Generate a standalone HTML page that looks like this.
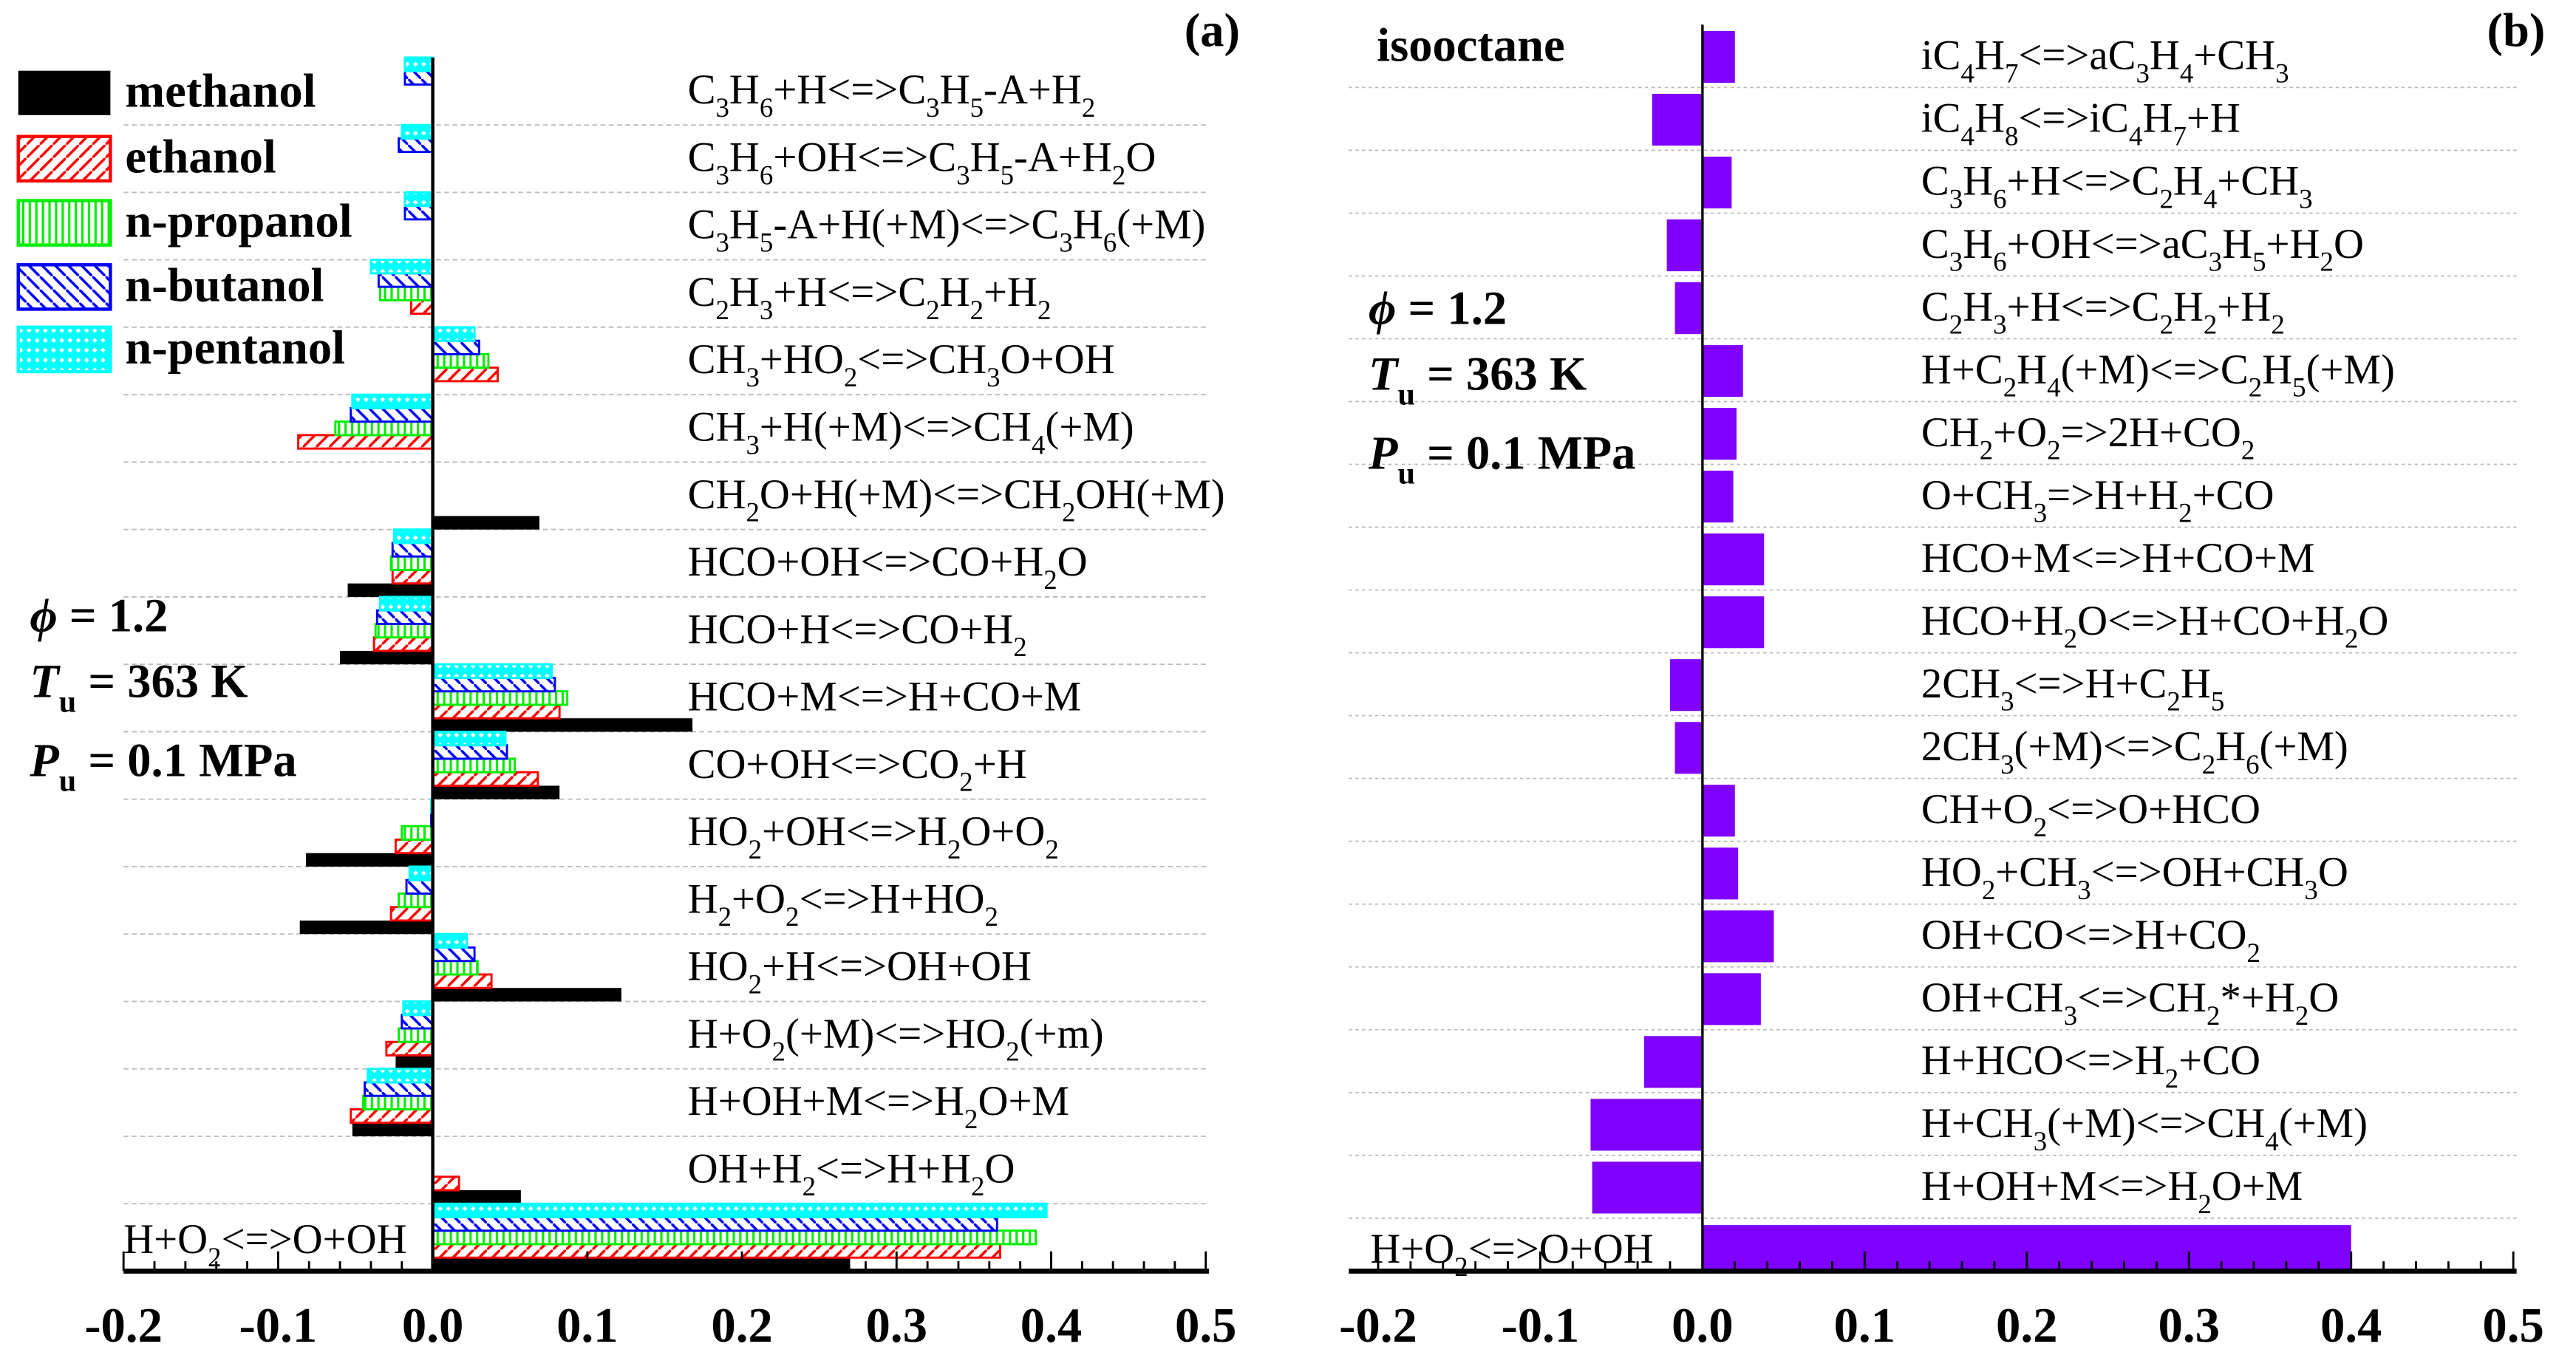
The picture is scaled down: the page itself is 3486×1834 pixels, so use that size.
<!DOCTYPE html>
<html><head><meta charset="utf-8"><style>
html,body{margin:0;padding:0;background:#fff;}
svg{display:block;}
text{font-family:"Liberation Serif",serif;}
</style></head><body>
<svg id="chart" width="3486" height="1834" viewBox="0 0 1566 824" xmlns="http://www.w3.org/2000/svg">
<defs>
<pattern id="pRed" patternUnits="userSpaceOnUse" width="8" height="8"><rect width="8" height="8" fill="#fff"/><path d="M-2,10 L10,-2" stroke="#ff0000" stroke-width="1.6"/></pattern>
<pattern id="pGreen" patternUnits="userSpaceOnUse" width="4" height="8"><rect width="4" height="8" fill="#fff"/><path d="M2,0 L2,8" stroke="#00ee00" stroke-width="1.4"/></pattern>
<pattern id="pBlue" patternUnits="userSpaceOnUse" width="8" height="8"><rect width="8" height="8" fill="#fff"/><path d="M-2,-2 L10,10" stroke="#0000ff" stroke-width="1.6"/></pattern>
<pattern id="pCyan" patternUnits="userSpaceOnUse" width="5" height="6"><rect width="5" height="6" fill="#00ffff"/><path d="M2.5,1.5 L4,3 L2.5,4.5 L1,3 Z" fill="#fff"/></pattern>
</defs>
<g id="layer"></g>
</svg>
<script>
// ---- Panel (a) data ----
const catsA = ["C_3H_6+H<=>C_3H_5-A+H_2","C_3H_6+OH<=>C_3H_5-A+H_2O","C_3H_5-A+H(+M)<=>C_3H_6(+M)","C_2H_3+H<=>C_2H_2+H_2","CH_3+HO_2<=>CH_3O+OH","CH_3+H(+M)<=>CH_4(+M)","CH_2O+H(+M)<=>CH_2OH(+M)","HCO+OH<=>CO+H_2O","HCO+H<=>CO+H_2","HCO+M<=>H+CO+M","CO+OH<=>CO_2+H","HO_2+OH<=>H_2O+O_2","H_2+O_2<=>H+HO_2","HO_2+H<=>OH+OH","H+O_2(+M)<=>HO_2(+m)","H+OH+M<=>H_2O+M","OH+H_2<=>H+H_2O","H+O_2<=>O+OH"];
const methanol = [0,0,0,0,0,0,0.069,-0.055,-0.060,0.168,0.082,-0.082,-0.086,0.122,-0.024,-0.052,0.057,0.270];
const ethanol  = [0,0,0,-0.014,0.042,-0.087,0,-0.026,-0.038,0.082,0.068,-0.024,-0.027,0.038,-0.030,-0.053,0.017,0.367];
const propanol = [0,0,0,-0.034,0.036,-0.063,0,-0.027,-0.037,0.087,0.053,-0.020,-0.022,0.029,-0.022,-0.045,0,0.390];
const butanol  = [-0.018,-0.022,-0.018,-0.035,0.030,-0.053,0,-0.026,-0.036,0.079,0.048,-0.001,-0.017,0.027,-0.020,-0.044,0,0.365];
const pentanol = [-0.018,-0.020,-0.018,-0.040,0.027,-0.052,0,-0.025,-0.034,0.077,0.047,-0.001,-0.015,0.022,-0.019,-0.042,0,0.397];
const seriesNames = ["methanol","ethanol","n-propanol","n-butanol","n-pentanol"];
const ticksX = [-0.2,-0.1,0.0,0.1,0.2,0.3,0.4,0.5];
const tickLabels = ["-0.2","-0.1","0.0","0.1","0.2","0.3","0.4","0.5"];
// ---- Panel (b) data ----
const catsB = ["iC_4H_7<=>aC_3H_4+CH_3","iC_4H_8<=>iC_4H_7+H","C_3H_6+H<=>C_2H_4+CH_3","C_3H_6+OH<=>aC_3H_5+H_2O","C_2H_3+H<=>C_2H_2+H_2","H+C_2H_4(+M)<=>C_2H_5(+M)","CH_2+O_2=>2H+CO_2","O+CH_3=>H+H_2+CO","HCO+M<=>H+CO+M","HCO+H_2O<=>H+CO+H_2O","2CH_3<=>H+C_2H_5","2CH_3(+M)<=>C_2H_6(+M)","CH+O_2<=>O+HCO","HO_2+CH_3<=>OH+CH_3O","OH+CO<=>H+CO_2","OH+CH_3<=>CH_2*+H_2O","H+HCO<=>H_2+CO","H+CH_3(+M)<=>CH_4(+M)","H+OH+M<=>H_2O+M","H+O_2<=>O+OH"];
const isooctane = [0.020,-0.031,0.018,-0.022,-0.017,0.025,0.021,0.019,0.038,0.038,-0.020,-0.017,0.020,0.022,0.044,0.036,-0.036,-0.069,-0.068,0.400];

const NS="http://www.w3.org/2000/svg";
const layer=document.getElementById('layer');
function el(tag,attrs,parent){const e=document.createElementNS(NS,tag);for(const k in attrs)e.setAttribute(k,attrs[k]);(parent||layer).appendChild(e);return e;}
function richText(str,x,y,size,parent){
  const t=el('text',{x:x,y:y,'font-size':size,fill:'#000'},parent);
  const parts=str.split(/(_[0-9])/);
  let sub=false;
  parts.forEach(p=>{
    if(!p)return;
    const ts=document.createElementNS(NS,'tspan');
    if(p[0]==='_'){ts.textContent=p.slice(1);ts.setAttribute('dy',8);ts.setAttribute('font-size',size*0.65);sub=true;}
    else{ts.textContent=p;if(sub){ts.setAttribute('dy',-8);sub=false;}}
    t.appendChild(ts);
  });
  return t;
}
const xA=v=>263+v*940;
const xB=v=>1035+v*986;
const rowA={top:35,h:41};
const rowB={top:15,h:38.2};
const fills=['#000','url(#pRed)','url(#pGreen)','url(#pBlue)','url(#pCyan)'];
const strokes=['#000','#ff0000','#00ee00','#0000ff','#00ffff'];
const allA=[methanol,ethanol,propanol,butanol,pentanol];
const LS=25.5;

function axis(xf,x0,x1,parentName){
  const g=el('g',{});
  
  
  el('line',{x1:x0,y1:773,x2:x1,y2:773,stroke:'#000','stroke-width':3},g);
  for(let v=-0.2;v<=0.5001;v+=0.02){
    const major=Math.abs(Math.round(v*10)-v*10)<1e-6;
    el('line',{x1:xf(v),y1:773,x2:xf(v),y2:major?761:767,stroke:'#000','stroke-width':1.3},g);
  }
  ticksX.forEach((v,i)=>{
    const t=el('text',{x:xf(v),y:816,'font-size':30,'font-weight':'bold','text-anchor':'middle'},g);
    t.textContent=tickLabels[i];
    
    
  });
}

// ---- Panel (a) ----
const ga=el('g',{});


for(let i=1;i<catsA.length;i++){
  el('line',{x1:75,x2:735,y1:rowA.top+rowA.h*i,y2:rowA.top+rowA.h*i,stroke:'#bbb','stroke-width':0.8,'stroke-dasharray':'3,2'},ga);
}
catsA.forEach((c,i)=>{
  const bottom=rowA.top+rowA.h*(i+1);
  allA.forEach((arr,s)=>{
    const v=arr[i]; if(!v) return;
    const y=bottom-(s+1)*8.2;
    const r=el('rect',{x:Math.min(xA(0),xA(v)),y:y,width:Math.abs(xA(v)-xA(0)),height:8.2,fill:fills[s],stroke:strokes[s],'stroke-width':s?1.3:0},ga);
    
    
  });
  const last=i===catsA.length-1;
  const t=richText(c,last?75:418,rowA.top+rowA.h*i+(last?30:28),LS,ga);
  
  
});
el('line',{x1:263,y1:35,x2:263,y2:773,stroke:'#000','stroke-width':2},ga);
axis(xA,75,735,'x-axis-a');
const lg=el('g',{});


const legY=[42,82,121,160,198];
seriesNames.forEach((n,s)=>{
  const r=el('rect',{x:11,y:legY[s]+1,width:56,height:27,fill:fills[s],stroke:strokes[s],'stroke-width':s?2:0},lg);
  
  
  const t=el('text',{x:76,y:legY[s]+23,'font-size':29,'font-weight':'bold'},lg);
  t.textContent=n;
  
  
});
function conds(x,y0,parentName){
  const g=el('g',{});
  
  
  const a=el('text',{x:x,y:y0,'font-size':29,'font-weight':'bold'},g);
  a.innerHTML='<tspan font-style="italic">ϕ</tspan> = 1.2';
  const b=el('text',{x:x,y:y0+40,'font-size':29,'font-weight':'bold'},g);
  b.innerHTML='<tspan font-style="italic">T</tspan><tspan dy="9" font-size="19">u</tspan><tspan dy="-9"> = 363 K</tspan>';
  const c=el('text',{x:x,y:y0+88,'font-size':29,'font-weight':'bold'},g);
  c.innerHTML='<tspan font-style="italic">P</tspan><tspan dy="9" font-size="19">u</tspan><tspan dy="-9"> = 0.1 MPa</tspan>';
}
conds(18,384,'conditions-a');
const la=el('text',{x:720,y:28,'font-size':29,'font-weight':'bold'});
la.textContent='(a)';



// ---- Panel (b) ----
const gb=el('g',{});


for(let i=1;i<catsB.length;i++){
  el('line',{x1:820,x2:1530,y1:rowB.top+rowB.h*i,y2:rowB.top+rowB.h*i,stroke:'#bbb','stroke-width':0.8,'stroke-dasharray':'2,2'},gb);
}
catsB.forEach((c,i)=>{
  const cy=rowB.top+rowB.h*(i+0.5);
  const v=isooctane[i];
  const last=i===catsB.length-1;
  const h=last?28:31.5;
  const y=last?773-h:cy-h/2+0.5;
  const r=el('rect',{x:Math.min(xB(0),xB(v)),y:y,width:Math.abs(xB(v)-xB(0)),height:h,fill:'#8000ff'},gb);
  
  
  const t=richText(c,last?833:1168,cy+(last?8:8),LS,gb);
  
  
});
el('line',{x1:1035,y1:15,x2:1035,y2:773,stroke:'#000','stroke-width':1.5},gb);
axis(xB,820,1530,'x-axis-b');
const iso=el('text',{x:837,y:37,'font-size':29,'font-weight':'bold'});
iso.textContent='isooctane';


conds(832,197,'conditions-b');
const lb=el('text',{x:1512,y:28,'font-size':29,'font-weight':'bold'});
lb.textContent='(b)';


</script>
</body></html>
